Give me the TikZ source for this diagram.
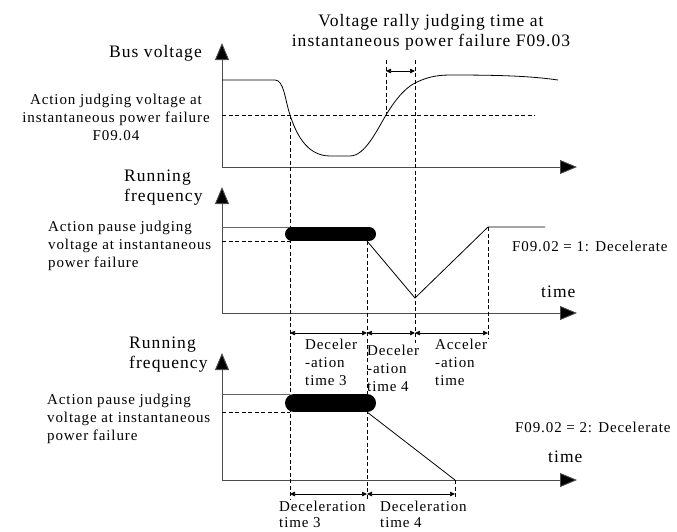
\documentclass[tikz,border=0pt]{standalone}
\usepackage{fontspec}
\setmainfont{Liberation Serif}[LetterSpace=6]
\usetikzlibrary{arrows.meta}
\newcommand\txtS{\fontsize{15}{17.7}\selectfont}
\newcommand\txtB{\fontsize{15}{16}\selectfont}
\newcommand\txtL{\fontsize{17.5}{20}\selectfont}
\begin{document}
\begin{tikzpicture}[x=1pt,y=-1pt,
  axis/.style={draw=black!70, line width=0.9pt, -{Triangle[length=17pt,width=14pt,fill=black]}},
  curve/.style={draw=black, line width=0.8pt},
  level/.style={draw=black!60, line width=0.9pt},
  guide/.style={draw=black, line width=0.7pt, dash pattern=on 4pt off 2.5pt},
  dimline/.style={draw=black, line width=0.7pt, {Triangle[length=5pt,width=4.5pt]}-{Triangle[length=5pt,width=4.5pt]}},
  bar/.style={draw=black, line cap=round},
  lblS/.style={inner sep=0pt, font=\txtS},
  lblB/.style={inner sep=0pt, font=\txtB},
  lblL/.style={inner sep=0pt, font=\txtL}]
\useasboundingbox (0,0) rectangle (677,531);

% ---------- axes ----------
\coordinate (o1) at (222,167); \coordinate (y1) at (222,43); \coordinate (x1) at (577,167);
\coordinate (o2) at (222,313); \coordinate (y2) at (222,187); \coordinate (x2) at (577,313);
\coordinate (o3) at (222,480); \coordinate (y3) at (222,353); \coordinate (x3) at (577,480);
\draw[axis] (o1) -- (y1);
\draw[axis] (o1) -- (x1);
\draw[axis] (o2) -- (y2);
\draw[axis] (o2) -- (x2);
\draw[axis] (o3) -- (y3);
\draw[axis] (o3) -- (x3);

% ---------- panel 1: bus voltage ----------
\draw[guide] (222,115) -- (535,115);
\draw[curve] (222,80) -- (275,80)
  .. controls (284,80) and (285,100) .. (290,115)
  .. controls (295,130) and (305,156) .. (330,156)
  -- (350,156)
  .. controls (365,156) and (377,130) .. (386,115)
  .. controls (395,100) and (405,88) .. (415,83)
  .. controls (425,78) and (435,75) .. (450,75)
  .. controls (500,75) and (530,76) .. (558,80);
\draw[guide] (386,60) -- (386,115);
\draw[guide] (415,60) -- (415,343);
\coordinate (r1) at (386,71); \coordinate (r2) at (415,71);
\draw[dimline] (r1) -- (r2);

% ---------- panel 2 ----------
\draw[level] (222,227) -- (290,227);
\draw[guide] (222,241) -- (290,241);
\draw[bar, line width=14pt] (292,234) -- (369,234);
\draw[curve] (367,241) -- (415,298) -- (488,227) -- (545,227);
\draw[guide] (290,115) -- (290,500);
\draw[guide] (367,241) -- (367,500);
\draw[guide] (488,227) -- (488,338);
\coordinate (a1) at (290,333); \coordinate (a2) at (367,333);
\coordinate (a3) at (415,333); \coordinate (a4) at (488,333);
\draw[dimline] (a1) -- (a2);
\draw[dimline] (a2) -- (a3);
\draw[dimline] (a3) -- (a4);

% ---------- panel 3 ----------
\draw[level] (222,394) -- (290,394);
\draw[guide] (222,412) -- (290,412);
\draw[bar, line width=18pt] (294,403) -- (367,403);
\draw[curve] (367,412) -- (455,480);
\draw[guide] (455,480) -- (455,498);
\coordinate (b1) at (290,494); \coordinate (b2) at (367,494); \coordinate (b3) at (455,494);
\draw[dimline] (b1) -- (b2);
\draw[dimline] (b2) -- (b3);

% ---------- texts (anchor = baseline of last line) ----------
\node[lblL, anchor=base] (title) at (431,26) {Voltage rally judging time at};
\node[lblL, anchor=base] (title2) at (431,46) {instantaneous power failure F09.03};
\node[lblL, anchor=base east] (busv) at (202,57) {Bus voltage};
\node[lblS, anchor=base, align=center] (actv) at (116,140) {Action judging voltage at\\instantaneous power failure\\F09.04};

\node[lblL, anchor=base west, align=left] (run2) at (124,201) {Running\\frequency};
\node[lblS, anchor=base west, align=left] (pause2) at (48,267) {Action pause judging\\voltage at instantaneous\\power failure};
\node[lblS, anchor=base west] (mode1) at (512,251) {F09.02 = 1: Decelerate};
\node[lblL, anchor=base west] (time2) at (541,297) {time};

\node[lblS, anchor=base west, align=left] (d3a) at (305,385) {Deceler\\-ation\\time 3};
\node[lblS, anchor=base west, align=left] (d4a) at (367,391) {Deceler\\-ation\\time 4};
\node[lblS, anchor=base west, align=left] (acc) at (435,385) {Acceler\\-ation\\time};

\node[lblL, anchor=base west, align=left] (run3) at (129,368) {Running\\frequency};
\node[lblS, anchor=base west, align=left] (pause3) at (47,440) {Action pause judging\\voltage at instantaneous\\power failure};
\node[lblS, anchor=base west] (mode2) at (515,432) {F09.02 = 2: Decelerate};
\node[lblL, anchor=base west] (time3) at (548,462) {time};

\node[lblB, anchor=base west, align=left] (d3b) at (279,527) {Deceleration\\time 3};
\node[lblB, anchor=base west, align=left] (d4b) at (380,527) {Deceleration\\time 4};
\end{tikzpicture}
\end{document}
